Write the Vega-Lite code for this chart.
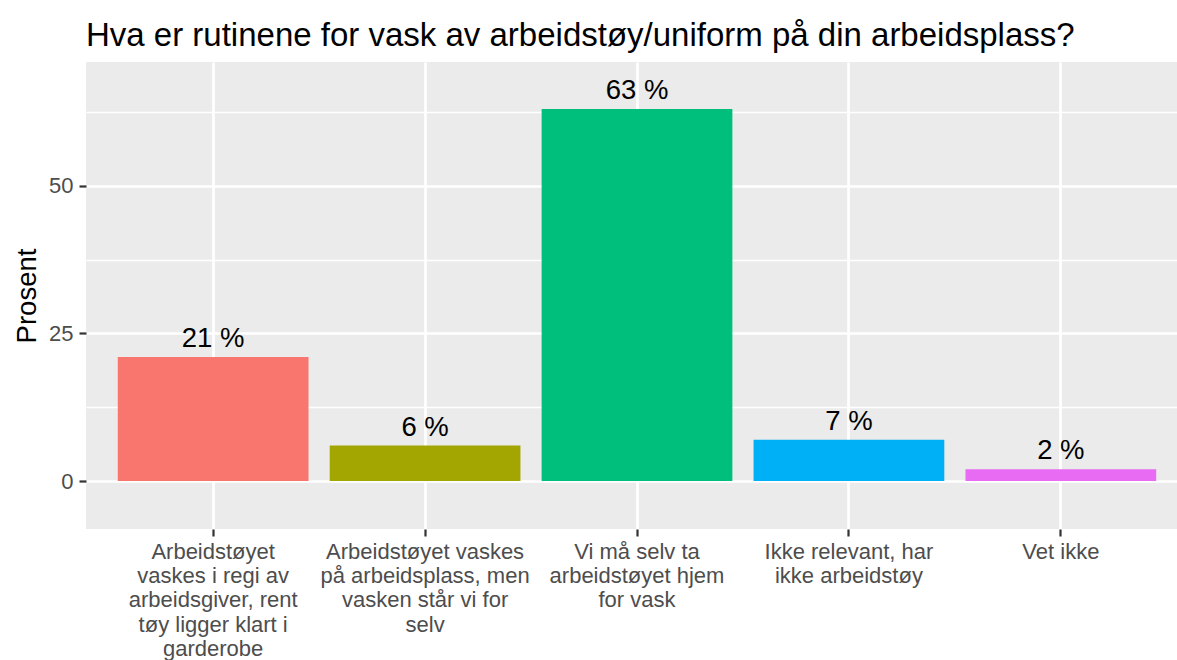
{
  "$schema": "https://vega.github.io/schema/vega-lite/v6.json",
  "width": 1091,
  "height": 467,
  "autosize": {"type": "none"},
  "padding": {"left": 86, "top": 62, "right": 0, "bottom": 131},
  "background": "white",
  "config": {
    "view": {"fill": "#EBEBEB", "stroke": null},
    "font": "Liberation Sans"
  },
  "title": {
    "text": "Hva er rutinene for vask av arbeidstøy/uniform på din arbeidsplass?",
    "anchor": "start",
    "frame": "group",
    "fontSize": 33,
    "fontWeight": "normal",
    "color": "black",
    "font": "Liberation Sans",
    "baseline": "alphabetic",
    "offset": 20,
    "dy": 37
  },
  "data": {
    "values": [
      {"kategori": "Arbeidstøyet\nvaskes i regi av\narbeidsgiver, rent\ntøy ligger klart i\ngarderobe", "prosent": 21, "label": "21 %"},
      {"kategori": "Arbeidstøyet vaskes\npå arbeidsplass, men\nvasken står vi for\nselv", "prosent": 6, "label": "6 %"},
      {"kategori": "Vi må selv ta\narbeidstøyet hjem\nfor vask", "prosent": 63, "label": "63 %"},
      {"kategori": "Ikke relevant, har\nikke arbeidstøy", "prosent": 7, "label": "7 %"},
      {"kategori": "Vet ikke", "prosent": 2, "label": "2 %"}
    ]
  },
  "encoding": {
    "x": {
      "field": "kategori",
      "type": "nominal",
      "sort": null,
      "scale": {"range": [0, 1102], "paddingInner": 0.1, "paddingOuter": 0.15},
      "axis": {
        "title": null,
        "labelAngle": 0,
        "labelExpr": "split(datum.label, '\\n')",
        "labelAlign": "center",
        "labelBaseline": "top",
        "labelFontSize": 22,
        "labelColor": "#4D4D4D",
        "labelLineHeight": 24.4,
        "labelPadding": 5,
        "labelLimit": 0,
        "labelFont": "Liberation Sans",
        "domain": false,
        "ticks": true,
        "tickSize": 7,
        "tickWidth": 2.2,
        "tickColor": "#333333",
        "grid": true,
        "gridColor": "white",
        "gridWidth": 2.7,
        "bandPosition": 0.5,
        "labelOverlap": false,
        "labelBound": false
      }
    },
    "y": {
      "field": "prosent",
      "type": "quantitative",
      "scale": {"domain": [-8.13, 70.97], "nice": false, "zero": false},
      "axis": {
        "title": "Prosent",
        "titleFontSize": 27.5,
        "titleFontWeight": "normal",
        "titleColor": "black",
        "titleFont": "Liberation Sans",
        "titleAngle": -90,
        "titleBaseline": "alphabetic",
        "titleAlign": "center",
        "titleX": -51,
        "titleY": 233.5,
        "values": [0, 12.5, 25, 37.5, 50, 62.5],
        "labelExpr": "datum.value % 25 == 0 ? datum.label : ''",
        "labelFontSize": 22,
        "labelColor": "#4D4D4D",
        "labelFont": "Liberation Sans",
        "labelPadding": 6,
        "labelBaseline": "middle",
        "domain": false,
        "tickSize": 7,
        "tickWidth": 2.2,
        "tickColor": "#333333",
        "tickOpacity": {"condition": {"test": "datum.value % 25 == 0", "value": 1}, "value": 0},
        "grid": true,
        "gridColor": "white",
        "gridWidth": {"condition": {"test": "datum.value % 25 == 0", "value": 2.7}, "value": 1.35}
      }
    }
  },
  "layer": [
    {
      "mark": {"type": "bar"},
      "encoding": {
        "color": {
          "field": "kategori",
          "type": "nominal",
          "sort": null,
          "scale": {"range": ["#F8766D", "#A3A500", "#00BF7D", "#00B0F6", "#E76BF3"]},
          "legend": null
        }
      }
    },
    {
      "mark": {"type": "text", "baseline": "alphabetic", "dy": -10, "fontSize": 27.5, "color": "black", "font": "Liberation Sans"},
      "encoding": {
        "text": {"field": "label", "type": "nominal"}
      }
    }
  ]
}
